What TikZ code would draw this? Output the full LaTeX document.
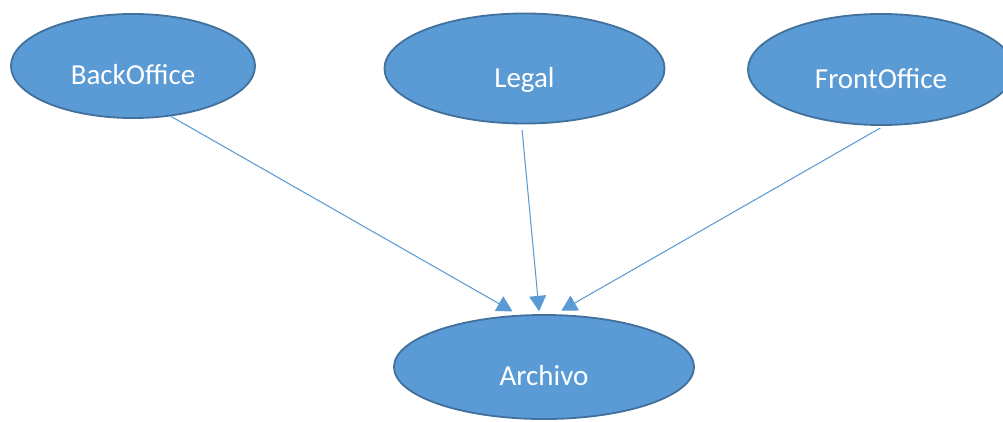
\documentclass[tikz,border=0pt]{standalone}
\usepackage{fontspec}
\setmainfont{Carlito}
\usetikzlibrary{shapes.geometric,arrows.meta}

\definecolor{officefill}{HTML}{5B9BD5}
\definecolor{officeedge}{HTML}{41719C}

\begin{document}
\begin{tikzpicture}[x=0.025cm, y=-0.025cm,
    office/.style={ellipse, draw=officeedge, line width=1.3pt, fill=officefill,
        text=white, inner sep=0pt, text height=27pt, text depth=0pt,
        font=\fontsize{20.6}{24}\selectfont},
    link/.style={draw=officefill, line width=0.75pt,
        -{Triangle[length=11pt, width=12pt]}}]
    \useasboundingbox (0,0) rectangle (1003,421);

    % Departments on top
    \node[office, minimum width=6.1cm, minimum height=2.6cm] (back) at (133,66) {BackOffice};
    \node[office, minimum width=7cm, minimum height=2.75cm] (legal) at (524.5,68.5) {Legal};
    \node[office, minimum width=6.65cm, minimum height=2.775cm] (front) at (881,69.5) {FrontOffice};

    % Archive below
    \node[office, minimum width=7.5cm, minimum height=2.6cm] (arch) at (544,367) {Archivo};

    % Links into the archive
    \draw[link, shorten >=5pt] (back.-53) -- (arch.116);
    \draw[link, shorten <=4pt, shorten >=2pt] (legal.-93) -- (arch.95);
    \draw[link, shorten <=3pt, shorten >=5pt] (front.-87) -- (arch.78);
\end{tikzpicture}
\end{document}
